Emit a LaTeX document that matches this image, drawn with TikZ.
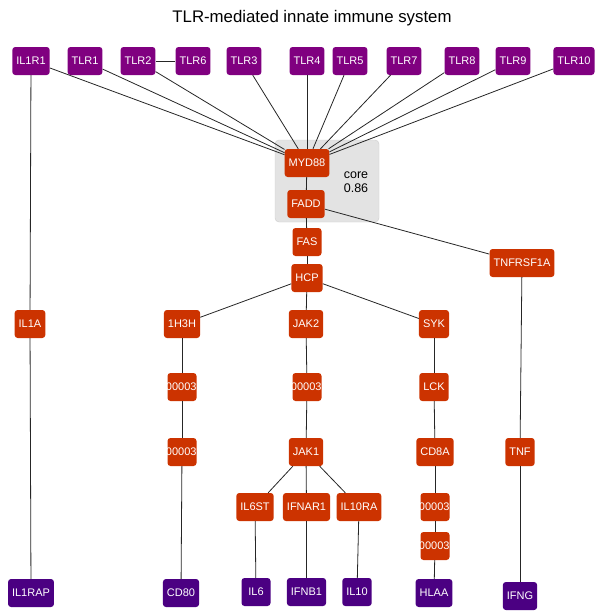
\documentclass[tikz,border=0pt]{standalone}
\usepackage{fontspec}
\setmainfont{Liberation Sans}
\definecolor{Plum}{HTML}{800080}
\definecolor{Indigo}{HTML}{4B0082}
\definecolor{Rust}{HTML}{CC3300}
\definecolor{CoreGray}{HTML}{E3E3E3}
\tikzset{
  gene/.style={rounded corners=3pt,text=white,font=\fontsize{11}{13}\selectfont,
    minimum height=28pt,minimum width=29pt,inner xsep=4pt,inner ysep=0pt},
  recep/.style={gene,fill=Plum},
  sig/.style={gene,fill=Rust},
  eff/.style={gene,fill=Indigo},
  trunc/.style={sig,inner xsep=0pt},
  link/.style={line width=0.8pt,black!85}
}
\newcommand{\cut}{\makebox[29pt][r]{00003}}

\begin{document}
\begin{tikzpicture}[x=1pt,y=-1pt]
        \useasboundingbox (0,0) rectangle (600,613);
        \node[anchor=base,font=\fontsize{16.8}{19}\selectfont] (title) at (312,23) {TLR-mediated innate immune system};
        % core module
        \fill[CoreGray,draw=black!20,rounded corners=4pt] (275,140) rectangle (379,222);
        \node[align=center,font=\fontsize{12.5}{14}\selectfont] (core) at (356,182) {core\\0.86};
        % receptors
        \foreach \n/\t/\x in {il1r1/IL1R1/31,tlr1/TLR1/85,tlr2/TLR2/138,tlr6/TLR6/193,
            tlr3/TLR3/244,tlr4/TLR4/307,tlr5/TLR5/350,tlr7/TLR7/404,tlr8/TLR8/462,
            tlr9/TLR9/513,tlr10/TLR10/574}
          \node[recep] (\n) at (\x,61) {\t};
        % signalling
        \node[sig] (myd88) at (307,163) {MYD88};
        \node[sig] (fadd) at (306,204) {FADD};
        \node[sig] (fas) at (307,242) {FAS};
        \node[sig] (hcp) at (307,278) {HCP};
        \node[sig] (tnfrsf1a) at (522,263) {TNFRSF1A};
        \node[sig] (il1a) at (30,324) {IL1A};
        \node[sig] (h3h) at (182,324) {1H3H};
        \node[sig] (jak2) at (306,324) {JAK2};
        \node[sig] (syk) at (434,324) {SYK};
        \node[trunc] (c1a) at (182,387) {\cut};
        \node[trunc] (c2a) at (307,387) {\cut};
        \node[sig] (lck) at (434,387) {LCK};
        \node[trunc] (c1b) at (182,452) {\cut};
        \node[sig] (jak1) at (306,452) {JAK1};
        \node[sig] (cd8a) at (435,452) {CD8A};
        \node[sig] (tnf) at (520,452) {TNF};
        \node[sig] (il6st) at (255,507) {IL6ST};
        \node[sig] (ifnar1) at (306.5,507) {IFNAR1};
        \node[sig] (il10ra) at (359,507) {IL10RA};
        \node[trunc] (c3a) at (435,507) {\cut};
        \node[trunc] (c3b) at (435,546) {\cut};
        % effectors
        \node[eff] (il1rap) at (31,593) {IL1RAP};
        \node[eff] (cd80) at (181,593) {CD80};
        \node[eff] (il6) at (256,592) {IL6};
        \node[eff] (ifnb1) at (306.5,592) {IFNB1};
        \node[eff] (il10) at (357,592) {IL10};
        \node[eff] (hlaa) at (434,593) {HLAA};
        \node[eff] (ifng) at (520,596) {IFNG};
        % links
        \foreach \a in {il1r1,tlr1,tlr2,tlr3,tlr4,tlr5,tlr7,tlr8,tlr9,tlr10}
          \draw[link] (\a) -- (myd88);
        \foreach \a/\b in {tlr2/tlr6,il1r1/il1a,il1a/il1rap,myd88/fadd,fadd/fas,fadd/tnfrsf1a,
            fas/hcp,hcp/h3h,hcp/jak2,hcp/syk,h3h/c1a,c1a/c1b,c1b/cd80,jak2/c2a,c2a/jak1,
            jak1/il6st,jak1/ifnar1,jak1/il10ra,il6st/il6,ifnar1/ifnb1,il10ra/il10,
            syk/lck,lck/cd8a,cd8a/c3a,c3a/c3b,c3b/hlaa,tnfrsf1a/tnf,tnf/ifng}
          \draw[link] (\a) -- (\b);
      \end{tikzpicture}
\end{document}
